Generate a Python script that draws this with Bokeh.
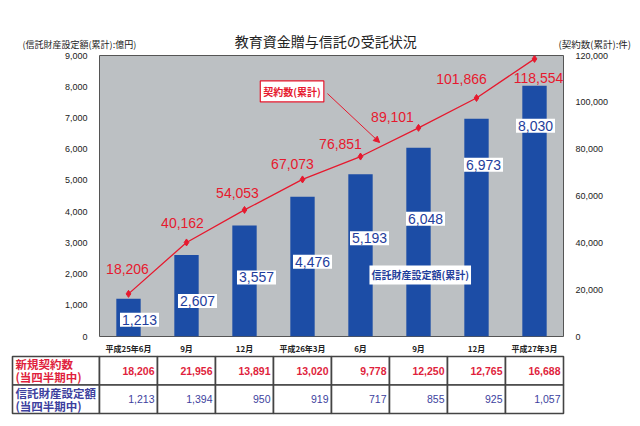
from bokeh.plotting import figure
from bokeh.models import (Range1d, LinearAxis, FixedTicker, NumeralTickFormatter,
                          Label, Arrow, NormalHead)
from bokeh.embed import file_html
from bokeh.resources import INLINE
from bokeh.core.properties import value

# ---------------- data ----------------
periods = ["平成25年6月", "9月", "12月", "平成26年3月", "6月", "9月", "12月", "平成27年3月"]
amount_cum = [1213, 2607, 3557, 4476, 5193, 6048, 6973, 8030]            # 億円（累計）
contracts_cum = [18206, 40162, 54053, 67073, 76851, 89101, 101866, 118554]  # 件（累計）
new_contracts = [18206, 21956, 13891, 13020, 9778, 12250, 12765, 16688]   # 当四半期中
new_amount = [1213, 1394, 950, 919, 717, 855, 925, 1057]                  # 当四半期中

left_ticks = list(range(0, 9001, 1000))
right_ticks = list(range(0, 120001, 20000))

title_text = "教育資金贈与信託の受託状況"
left_title = "(信託財産設定額(累計):億円)"
right_title = "(契約数(累計):件)"
line_label = "契約数(累計)"
bar_label = "信託財産設定額(累計)"
row1_head = ["新規契約数", "(当四半期中)"]
row2_head = ["信託財産設定額", "(当四半期中)"]

# label pixel offsets (layout only)
red_dx = [-1, -4, -7, -10, -20, -26, -15, 4]
red_dy = [-25, -19, -17, -15, -13, -11, -19, 19]
blue_dx = [11, 11, 12, 10, 9, 7, 7, 1]
blue_dy = [21, 46, 52, 65, 64, 71, 46, 40]

# ---------------- styles ----------------
RED = "#e6192e"
BAR = "#1c4da6"
BLUE_TXT = "#1f3e9c"
TBL_RED = "#e01f3d"
TBL_BLUE = "#3d3f9e"
BG = "#bcc0c3"
JP_NAME = "Noto Sans CJK JP"
NUM_NAME = "Liberation Sans"
JP = value(JP_NAME)
NUM = value(NUM_NAME)

W = 640
FL, FR = 99, 563          # frame left / right (px)
FT, FB = 55, 336          # frame top / bottom (px)
UNIT = (FR - FL) / 8.0    # px per category
XMIN = 0.5 - FL / UNIT
XMAX = 0.5 + (W - FL) / UNIT
HEAD_H = 50
MAIN_BOT = 342
PAGE_H = 420

xs = list(range(1, len(periods) + 1))

# ---------------- header strip (titles) ----------------
h = figure(width=W, height=HEAD_H, x_range=Range1d(XMIN, XMAX), y_range=Range1d(HEAD_H, 0),
           min_border_left=0, min_border_right=0, min_border_top=0, min_border_bottom=0,
           x_axis_location=None, y_axis_location=None, toolbar_location=None,
           output_backend="svg", outline_line_color=None, background_fill_color="white",
           border_fill_color="white")
h.xgrid.visible = False
h.ygrid.visible = False
h.text(x=[4.40], y=[40], text=[title_text], text_align="center", text_baseline="middle",
       text_font=JP, text_font_size="14px", text_color="#222222")
h.text(x=[0.5 + (22 - FL) / UNIT], y=[43.5], text=[left_title], text_align="left",
       text_baseline="middle", text_font=JP, text_font_size="9px", text_color="#222222")
h.text(x=[0.5 + (558 - FL) / UNIT], y=[43.5], text=[right_title], text_align="left",
       text_baseline="middle", text_font=JP, text_font_size="9.5px", text_color="#222222")

# ---------------- main chart ----------------
p = figure(width=W, height=MAIN_BOT - HEAD_H, x_range=Range1d(0.5, 8.5), y_range=Range1d(0, 9000),
           output_backend="svg", toolbar_location=None, x_axis_location=None,
           min_border_left=FL, min_border_right=W - FR, min_border_top=FT - HEAD_H,
           min_border_bottom=MAIN_BOT - FB,
           background_fill_color=BG, border_fill_color="white", outline_line_color="#555555")
p.xgrid.visible = False
p.ygrid.visible = False

p.yaxis.ticker = FixedTicker(ticks=left_ticks)
p.yaxis.formatter = NumeralTickFormatter(format="0,0")
p.extra_y_ranges = {"cnt": Range1d(0, 120000)}
ra = LinearAxis(y_range_name="cnt", ticker=FixedTicker(ticks=right_ticks),
                formatter=NumeralTickFormatter(format="0,0"))
p.add_layout(ra, "right")

for ax in p.yaxis:
    ax.axis_line_color = None
    ax.major_tick_line_color = None
    ax.minor_tick_line_color = None
    ax.major_label_text_font = NUM_NAME
    ax.major_label_text_font_size = "9px"
    ax.major_label_text_color = "#222222"
    ax.major_label_standoff = 6

# bars
p.vbar(x=xs, top=amount_cum, width=0.42, fill_color=BAR, line_color=None)

# line
p.line(xs, contracts_cum, y_range_name="cnt", line_color=RED, line_width=1.3)
p.scatter(xs, contracts_cum, y_range_name="cnt", marker="diamond", size=7,
          fill_color=RED, line_color=RED)

# red labels
p.text(x=xs, y=contracts_cum, text=[f"{v:,}" for v in contracts_cum], y_range_name="cnt",
       x_offset=red_dx, y_offset=red_dy, text_align="center", text_baseline="middle",
       text_font=NUM, text_font_size="14px", text_color=RED)

# blue boxed labels
p.text(x=xs, y=amount_cum, text=[f"{v:,}" for v in amount_cum],
       x_offset=blue_dx, y_offset=blue_dy, text_align="center", text_baseline="middle",
       text_font=NUM, text_font_size="14px", text_color=BLUE_TXT,
       background_fill_color="white", padding=2)

# callouts
p.add_layout(Label(x=3.82, y=7850, text=line_label, text_align="center", text_baseline="middle",
                   text_font=JP_NAME, text_font_size="10px", text_font_style="bold", text_color=RED,
                   background_fill_color="white", border_line_color=RED, border_line_width=1.2,
                   padding=3))
p.add_layout(Arrow(x_start=4.43, y_start=7780, x_end=5.33, y_end=6214, line_color=RED,
                   line_width=1, end=NormalHead(size=6, fill_color=RED, line_color=RED)))
p.add_layout(Label(x=6.03, y=1970, text=bar_label, text_align="center", text_baseline="middle",
                   text_font=JP_NAME, text_font_size="10px", text_font_style="bold",
                   text_color=BLUE_TXT, background_fill_color="white", padding=2))

# ---------------- table (with period labels) ----------------
ROW_TOP, ROW_BOT = 356, 413
RH = (ROW_BOT - ROW_TOP) / 2.0
t = figure(width=W, height=PAGE_H - MAIN_BOT, x_range=Range1d(XMIN, XMAX),
           y_range=Range1d(-(PAGE_H - ROW_BOT) / RH, 2 + (ROW_TOP - MAIN_BOT) / RH),
           min_border_left=0, min_border_right=0, min_border_top=0, min_border_bottom=0,
           x_axis_location=None, y_axis_location=None, toolbar_location=None,
           output_backend="svg", outline_line_color=None, background_fill_color="white",
           border_fill_color="white")
t.xgrid.visible = False
t.ygrid.visible = False

# period (x-axis) labels
t.text(x=xs, y=[2] * len(xs), text=periods, y_offset=-8.5, text_align="center",
       text_baseline="middle", text_font=JP, text_font_size="8px", text_font_style="bold",
       text_color="#222222")

lefts = [-1.0] + [x - 0.5 for x in xs]
rights = [0.5] + [x + 0.5 for x in xs]
ncol = len(lefts)
t.quad(left=lefts * 2, right=rights * 2, bottom=[1] * ncol + [0] * ncol,
       top=[2] * ncol + [1] * ncol, fill_color="white", line_color="#444444", line_width=1.6)

for yrow, lines, col in ((1.5, row1_head, TBL_RED), (0.5, row2_head, TBL_BLUE)):
    t.text(x=[-1.0, -1.0], y=[yrow, yrow], text=lines, x_offset=3, y_offset=[-6.5, 6.5],
           text_align="left", text_baseline="middle", text_font=JP, text_font_size="11.5px",
           text_font_style="bold", text_color=col)

t.text(x=[x + 0.5 for x in xs], y=[1.5] * len(xs), text=[f"{v:,}" for v in new_contracts],
       x_offset=-3, text_align="right", text_baseline="middle", text_font=NUM,
       text_font_size="10.5px", text_font_style="bold", text_color=TBL_RED)
t.text(x=[x + 0.5 for x in xs], y=[0.5] * len(xs), text=[f"{v:,}" for v in new_amount],
       x_offset=-3, text_align="right", text_baseline="middle", text_font=NUM,
       text_font_size="10.5px", text_color=TBL_BLUE)

# separate roots (no frame alignment between the three strips)
open("out.html", "w").write(file_html([h, p, t], INLINE))
